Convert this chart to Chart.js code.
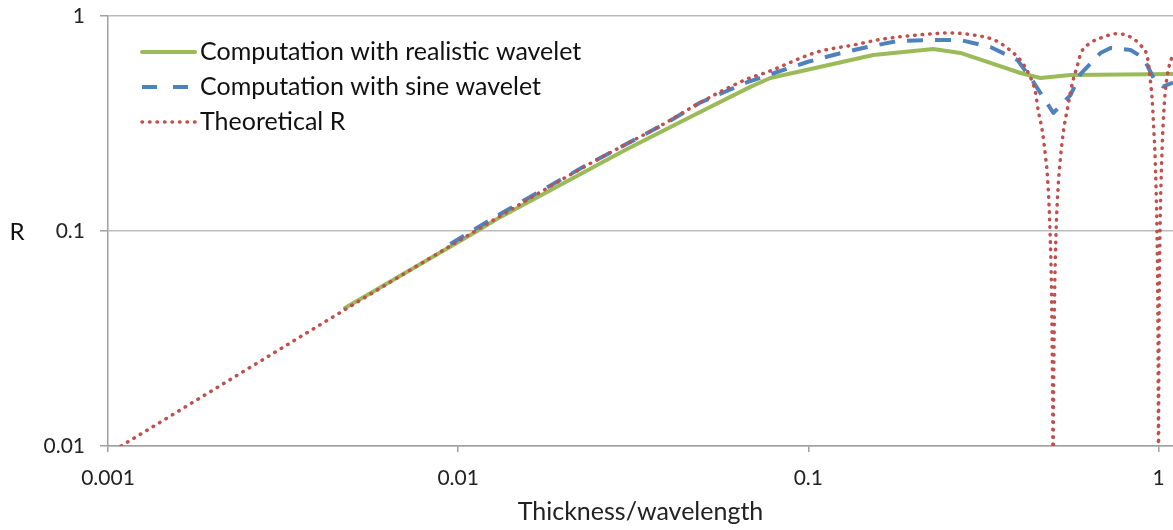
<!DOCTYPE html>
<html>
<head>
<meta charset="utf-8">
<script src="https://cdn.jsdelivr.net/npm/chart.js@4/dist/chart.umd.min.js"></script>
<style>
html,body{margin:0;padding:0;background:#fff;}
#wrap{position:relative;width:1173px;height:530px;}
</style>
</head>
<body>
<div id="wrap"><canvas id="c" width="1173" height="530"></canvas></div>
<script>
// ---- data ----
const seriesNames = ['Computation with realistic wavelet', 'Computation with sine wavelet', 'Theoretical R'];

const greenT = [0.00475, 0.01133, 0.01318, 0.03, 0.0491, 0.0683, 0.0779, 0.1533, 0.2276, 0.2718, 0.331, 0.4034, 0.46, 0.5605, 1.1];
const greenR = [0.0438, 0.100, 0.116, 0.238, 0.358, 0.468, 0.515, 0.6585, 0.702, 0.673, 0.605, 0.543, 0.515, 0.532, 0.537];

const blueT = [0.0095, 0.0133, 0.0228, 0.0396, 0.049, 0.067, 0.0993, 0.1211, 0.1475, 0.1796, 0.2232, 0.2718, 0.331, 0.3956, 0.4394, 0.501, 0.5605, 0.5985, 0.683, 0.729, 0.832, 0.906, 0.968, 1.03, 1.1];
const blueR = [0.087, 0.121, 0.199, 0.32, 0.395, 0.493, 0.611, 0.666, 0.7175, 0.765, 0.773, 0.773, 0.7175, 0.624, 0.493, 0.354, 0.429, 0.537, 0.673, 0.71, 0.695, 0.638, 0.515, 0.47, 0.49];

const redT = [0.00109, 0.0113, 0.0228, 0.0396, 0.049, 0.067, 0.0764, 0.1061, 0.1345, 0.1637, 0.205, 0.2545, 0.296, 0.34, 0.370, 0.403, 0.425, 0.445, 0.454, 0.466, 0.476, 0.482, 0.49, 0.495, 0.498, 0.4995, 0.5,
              0.5005, 0.502, 0.505, 0.51, 0.518, 0.525, 0.535, 0.55, 0.568, 0.587, 0.6, 0.64, 0.7, 0.75, 0.8, 0.84, 0.888, 0.93, 0.948, 0.96, 0.97, 0.978, 0.99, 0.995, 0.998, 0.9995, 1.0,
              1.0005, 1.002, 1.005, 1.01, 1.022, 1.04, 1.06, 1.1];
const redR = [0.01, 0.101, 0.198, 0.322, 0.395, 0.51, 0.549, 0.68, 0.733, 0.782, 0.816, 0.834, 0.816, 0.773, 0.71, 0.624, 0.543, 0.443, 0.36, 0.29, 0.22, 0.178, 0.10, 0.05, 0.02, 0.005, 0.0001,
              0.005, 0.02, 0.05, 0.10, 0.17, 0.22, 0.29, 0.373, 0.49, 0.59, 0.67, 0.75, 0.80, 0.826, 0.82, 0.79, 0.733, 0.638, 0.50, 0.40, 0.29, 0.22, 0.10, 0.05, 0.02, 0.005, 0.0001,
              0.005, 0.02, 0.05, 0.10, 0.22, 0.40, 0.53, 0.67];

const xTickValues = [0.001, 0.01, 0.1, 1];
const yTickValues = [0.01, 0.1, 1];
const xTitle = 'Thickness/wavelength';
const yTitle = 'R';

const toPoints = (ts, rs) => ts.map((t, i) => ({x: t, y: rs[i]}));
const FONT = 'Lato';

const insideLegend = {
  id: 'insideLegend',
  afterDraw(chart) {
    const ctx = chart.ctx, area = chart.chartArea;
    chart.data.datasets.forEach((ds, i) => {
      const y = area.top + 36 + i * 35;
      const x0 = area.left + 34, x1 = x0 + 53;
      ctx.save();
      ctx.strokeStyle = ds.borderColor;
      ctx.lineWidth = ds.borderWidth;
      ctx.lineCap = ds.borderCapStyle || 'butt';
      ctx.setLineDash(ds.legendDash || ds.borderDash || []);
      ctx.beginPath(); ctx.moveTo(x0, y); ctx.lineTo(x1, y); ctx.stroke();
      ctx.setLineDash([]);
      ctx.fillStyle = '#111';
      ctx.font = '25px ' + FONT;
      ctx.textAlign = 'left'; ctx.textBaseline = 'middle';
      ctx.fillText(ds.label, x1 + 5, y);
      ctx.restore();
    });
  }
};

const yAxisTitle = {
  id: 'yAxisTitle',
  afterDraw(chart) {
    const ctx = chart.ctx, area = chart.chartArea;
    ctx.save();
    ctx.fillStyle = '#111';
    ctx.font = '24px ' + FONT;
    ctx.textAlign = 'center'; ctx.textBaseline = 'middle';
    ctx.fillText(yTitle, 17, (area.top + area.bottom) / 2 + 1);
    ctx.restore();
  }
};

new Chart(document.getElementById('c'), {
  type: 'line',
  data: {
    datasets: [
      {label: seriesNames[0], data: toPoints(greenT, greenR), borderColor: '#9BBB59', borderWidth: 4, pointRadius: 0, tension: 0, order: 3, borderCapStyle: 'round', borderJoinStyle: 'round'},
      {label: seriesNames[1], data: toPoints(blueT, blueR), borderColor: '#4F81BD', borderWidth: 4, borderDash: [16, 12], legendDash: [15, 16], pointRadius: 0, tension: 0, order: 2, borderCapStyle: 'butt', borderJoinStyle: 'round'},
      {label: seriesNames[2], data: toPoints(redT, redR), borderColor: '#C0504D', borderWidth: 3.5, borderDash: [0.5, 7], pointRadius: 0, cubicInterpolationMode: 'monotone', order: 1, borderCapStyle: 'round', borderJoinStyle: 'round'}
    ]
  },
  options: {
    responsive: false,
    animation: false,
    devicePixelRatio: 1,
    layout: {padding: {top: 16, right: 0, bottom: 0, left: 0}},
    plugins: {legend: {display: false}, tooltip: {enabled: false}},
    scales: {
      x: {
        type: 'logarithmic', position: 'bottom', min: 0.001, max: 1.1,
        afterBuildTicks: s => { s.ticks = xTickValues.map(v => ({value: v})); },
        afterFit: s => { s.height = 84; s.paddingLeft = 0; s.paddingRight = 0; },
        ticks: {callback: v => String(v), font: {family: FONT, size: 21}, color: '#222', padding: 14, maxRotation: 0, autoSkip: false},
        grid: {drawOnChartArea: false, drawTicks: true, tickLength: 6, tickColor: '#a0a0a0', lineWidth: 1.5},
        border: {display: true, color: '#a0a0a0', width: 1.5},
        title: {display: true, text: xTitle, font: {family: FONT, size: 25}, color: '#222', padding: {top: 0, bottom: 3}}
      },
      y: {
        type: 'logarithmic', position: 'left', min: 0.01, max: 1,
        afterBuildTicks: s => { s.ticks = yTickValues.map(v => ({value: v})); },
        afterFit: s => { s.width = 108; s.paddingTop = 0; s.paddingBottom = 0; },
        ticks: {callback: v => String(v), font: {family: FONT, size: 21}, color: '#222', padding: 15, autoSkip: false},
        grid: {drawOnChartArea: true, drawTicks: true, tickLength: 8, color: '#bcbcbc', tickColor: '#a0a0a0', lineWidth: 1.5},
        border: {display: true, color: '#a0a0a0', width: 1.5}
      }
    }
  },
  plugins: [insideLegend, yAxisTitle]
});
</script>
</body>
</html>
